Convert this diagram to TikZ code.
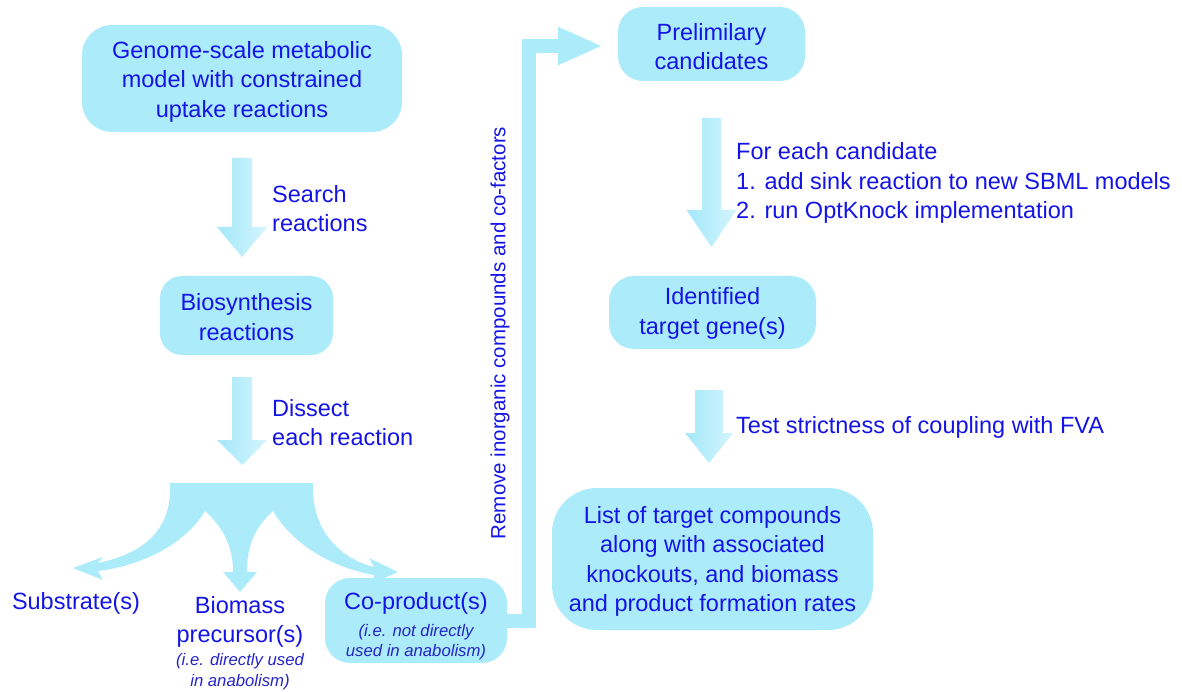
\documentclass[tikz,border=0pt]{standalone}
\usepackage{fontspec}
\setmainfont{Liberation Sans}
\usetikzlibrary{arrows.meta}
\definecolor{boxc}{RGB}{172,236,250}
\definecolor{arrd}{RGB}{164,232,250}
\definecolor{arrl}{RGB}{212,245,253}
\definecolor{txt}{RGB}{20,20,230}
\definecolor{itx}{RGB}{36,36,200}
% block arrow: x, ytop, yhead, ytip, shaft half width, head half width
\newcommand\blkarrow[6]{%
  \shade[left color=arrd, right color=arrl]
    ({#1-#5},#2) -- ({#1+#5},#2) -- ({#1+#5},#3) -- ({#1+#6},#3)
    -- (#1,#4) -- ({#1-#6},#3) -- ({#1-#5},#3) -- cycle;}
\begin{document}
\begin{tikzpicture}[x=1pt,y=-1pt,
  box/.style={fill=boxc, rounded corners=#1, inner sep=0pt},
  box/.default=25pt,
  lbl/.style={text=txt, inner sep=0pt, font=\fontsize{23.5}{29.5}\selectfont},
  note/.style={text=itx, inner sep=0pt, font=\fontsize{16.7}{19.5}\selectfont\itshape},
  bent/.style={draw=boxc, line width=14pt, line join=miter}]
\useasboundingbox (0,0) rectangle (1182,692);

% boxes
\node[box=30pt, minimum width=320pt, minimum height=107pt] (gen) at (242,78.5) {};
\node[lbl, align=center] (gent) at (242,81.5)
  {Genome-scale metabolic\\model with constrained\\uptake reactions};
\node[box=22pt, minimum width=173pt, minimum height=79pt] (bio) at (246.5,315.5) {};
\node[lbl, align=center] (biot) at (246.5,317) {Biosynthesis\\reactions};
\node[box=25pt, minimum width=182pt, minimum height=85pt] (cop) at (416,620.5) {};
\node[box=25pt, minimum width=187pt, minimum height=74pt] (pre) at (711.5,44) {};
\node[lbl, align=center] (pret) at (711.5,46.5) {Prelimilary\\candidates};
\node[box=25pt, minimum width=207pt, minimum height=73pt] (ide) at (712.5,312.5) {};
\node[lbl, align=center] (idet) at (712.5,313.5) {Identified\\target gene(s)};
\node[box=45pt, minimum width=321pt, minimum height=142pt] (lst) at (712.5,559) {};
\node[lbl, align=center] (lstt) at (712.5,561.5)
  {List of target compounds\\along with associated\\knockouts, and biomass\\and product formation rates};

% texts in/near the bottom boxes
\node[lbl] (copt) at (416,603) {Co-product(s)};
\node[note] (copn1) at (416,632) {(i.e. not directly};
\node[note] (copn2) at (416,652) {used in anabolism)};
\node[lbl] (sub) at (76,603) {Substrate(s)};
\node[lbl, align=center] (bms) at (240,622) {Biomass\\precursor(s)};
\node[note] (bmn1) at (240,661) {(i.e. directly used};
\node[note] (bmn2) at (240,682) {in anabolism)};

% block arrows
\blkarrow{242}{158}{227}{257}{10}{25}
\blkarrow{242}{377}{440}{465}{10}{25}
\blkarrow{711.5}{118}{210}{247}{9.5}{25}
\blkarrow{709}{390}{433}{463}{14}{24}

% arrow labels
\node[lbl, anchor=west, align=left] (l1) at (272,208.5) {Search\\reactions};
\node[lbl, anchor=west, align=left] (l2) at (272,422.5) {Dissect\\each reaction};
\node[lbl, anchor=west, align=left] (l3) at (736,183)
  {For each candidate\\1. add sink reaction to new SBML models\\2. run OptKnock implementation};
\node[lbl, anchor=west] (l4) at (736,427) {Test strictness of coupling with FVA};

% fork arrow
\fill[boxc] (170,483) -- (313,483)
  .. controls (311,535) and (345,560) .. (374,567)
  -- (369,558) -- (398,572) -- (373,583) -- (374,575)
  .. controls (325,566) and (290,540) .. (273,511)
  .. controls (252,530) and (247,550) .. (247,572)
  -- (257,572) -- (240,592) -- (223,572) -- (233,572)
  .. controls (233,550) and (226,530) .. (205,511)
  .. controls (185,545) and (140,566) .. (98,571)
  -- (103,580) -- (73,568) -- (103,557) -- (98,563)
  .. controls (150,552) and (172,525) .. (170,483) -- cycle;

% bent connector
\coordinate (bend) at (528.5,46);
\draw[bent, -{Triangle[length=45pt,width=35pt]}] (cop.east) -| (bend) -- ([xshift=-15pt]pre.west |- bend);
\node[text=txt, inner sep=0pt, rotate=90, font=\fontsize{20.5}{23}\selectfont] (rm) at (500,333)
  {Remove inorganic compounds and co-factors};
\end{tikzpicture}
\end{document}
